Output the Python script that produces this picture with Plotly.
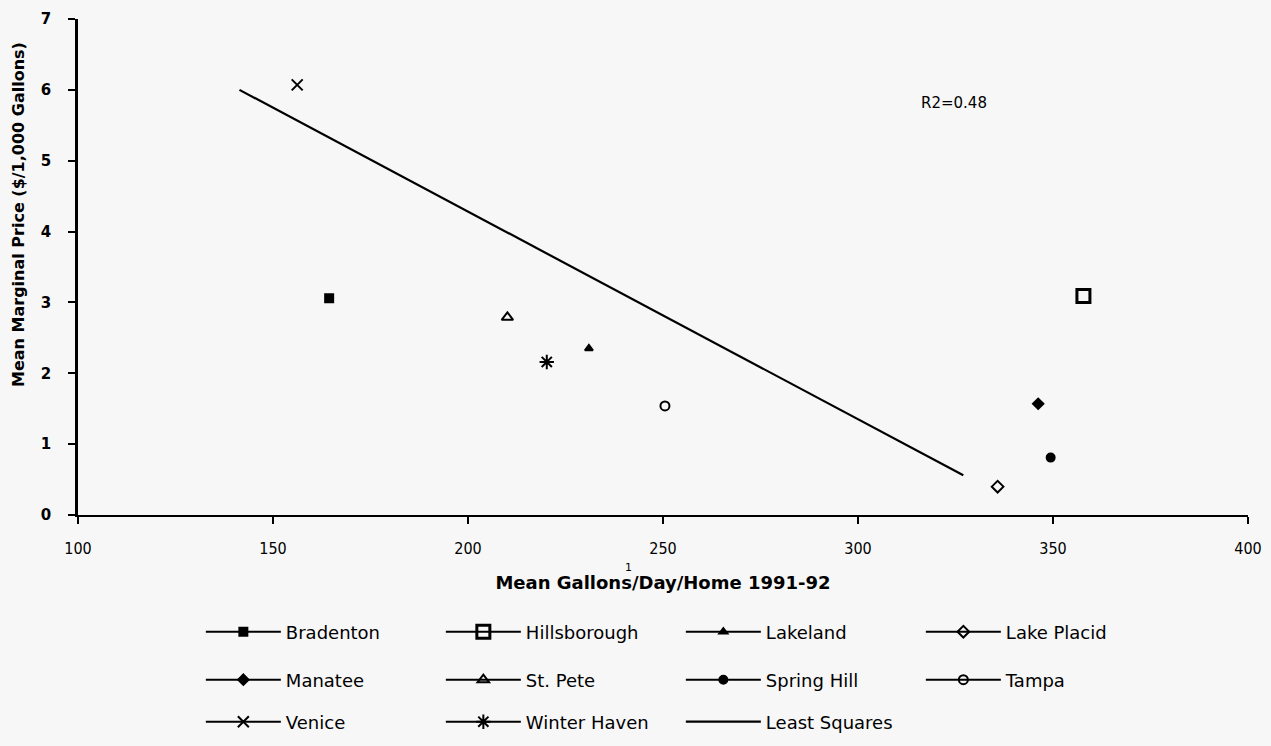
import plotly.graph_objects as go

cities = ["Bradenton", "Hillsborough", "Lakeland", "Lake Placid", "Manatee",
          "St. Pete", "Spring Hill", "Tampa", "Venice", "Winter Haven"]
gallons = [164.4, 357.8, 231.0, 335.8, 346.2, 210.1, 349.4, 250.5, 156.2, 220.2]
price = [3.06, 3.09, 2.35, 0.40, 1.57, 2.79, 0.81, 1.54, 6.07, 2.16]
symbols = ["square", "square-open", "triangle-up", "diamond-open", "diamond",
           "triangle-up-open", "circle", "circle-open", "x-thin-open", "asterisk-open"]
sizes = [8, 13, 7, 9, 8, 10, 8, 9, 11, 12]
legend_ids = ["legend", "legend", "legend", "legend",
              "legend2", "legend2", "legend2", "legend2",
              "legend3", "legend3"]

ls_name = "Least Squares"
ls_x = [141.4, 327.0]
ls_y = [6.0, 0.56]

x_ticks = [100, 150, 200, 250, 300, 350, 400]
y_ticks = [0, 1, 2, 3, 4, 5, 6, 7]

BG = "#f7f7f7"
FONT = "DejaVu Sans"
NARROW = "DejaVu Sans Condensed, Liberation Sans Narrow, DejaVu Sans"

fig = go.Figure()
for c, gx, py, sym, sz, lg in zip(cities, gallons, price, symbols, sizes, legend_ids):
    mw = 3 if sym == "square-open" else 2
    fig.add_trace(go.Scatter(
        x=[gx], y=[py], name=c, mode="lines+markers", legend=lg,
        line=dict(color="black", width=2),
        marker=dict(symbol=sym, size=sz, color="black",
                    line=dict(color="black", width=mw)),
        hoverinfo="x+y+name"))
fig.add_trace(go.Scatter(
    x=ls_x, y=ls_y, name=ls_name, mode="lines", legend="legend3",
    line=dict(color="black", width=2.2)))


def ypaper(py_pix):
    # pixel row -> paper coordinate of the plot area (top 19, bottom 515)
    return (515 - py_pix) / (515 - 19)


def xpaper(px_pix):
    return (px_pix - 78) / 1170


leg_common = dict(orientation="h", x=0.105, xanchor="left", yanchor="middle",
                  font=dict(family=FONT, size=18, color="black"),
                  bgcolor="rgba(0,0,0,0)", itemwidth=75,
                  entrywidth=150, entrywidthmode="pixels", itemclick=False)

fig.update_layout(
    width=1271, height=746,
    paper_bgcolor=BG, plot_bgcolor=BG,
    margin=dict(l=78, r=23, t=19, b=231, autoexpand=False),
    font=dict(family=FONT, color="black"),
    showlegend=True,
    legend=dict(leg_common, y=ypaper(632)),
    legend2=dict(leg_common, y=ypaper(680)),
    legend3=dict(leg_common, y=ypaper(722)),
    xaxis=dict(range=[100, 400], tickvals=x_ticks, ticktext=[str(v) for v in x_ticks],
               showline=True, linecolor="black", linewidth=2, automargin=False,
               ticks="outside", ticklen=7, tickwidth=1.5, tickcolor="black",
               showgrid=False, zeroline=False, ticklabelstandoff=11,
               tickfont=dict(family=NARROW, size=16, color="black"),
               title=dict(text="<b>Mean Gallons/Day/Home 1991-92</b>",
                          font=dict(family=FONT, size=18, color="black"),
                          standoff=19)),
    yaxis=dict(range=[0, 7], tickvals=y_ticks, ticktext=[str(v) for v in y_ticks],
               showline=True, linecolor="black", linewidth=2.5, automargin=False,
               ticks="outside", ticklen=7, tickwidth=1.5, tickcolor="black",
               showgrid=False, zeroline=False, ticklabelstandoff=14,
               tickfont=dict(family=FONT, size=15, color="black", weight="bold")),
    annotations=[
        dict(text="R2=0.48", x=324.6, y=5.81, xref="x", yref="y",
             showarrow=False, font=dict(family=FONT, size=15, color="black")),
        dict(text="<b>Mean Marginal Price ($/1,000 Gallons)</b>", textangle=-90,
             x=xpaper(18), y=ypaper(215), xref="paper", yref="paper",
             xanchor="center", yanchor="middle", showarrow=False,
             font=dict(family=FONT, size=16, color="black")),
        dict(text="1", x=xpaper(628), y=ypaper(567), xref="paper", yref="paper",
             xanchor="center", yanchor="middle", showarrow=False,
             font=dict(family=FONT, size=11, color="black")),
    ],
)

fig.write_html("out.html",
               config={"displayModeBar": False},
               post_script="document.body.style.margin='0';"
                           "document.body.style.background='#f7f7f7';")
